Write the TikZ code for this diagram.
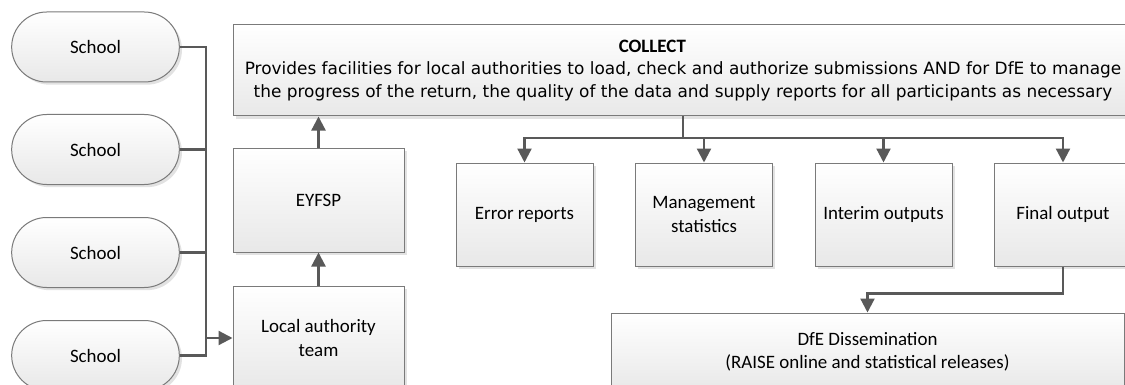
\documentclass[tikz,border=0pt]{standalone}
\usepackage{fontspec}
\setmainfont{Carlito}
\newfontfamily\descfont{DejaVu Sans}
\newcommand{\descsize}{\descfont\fontsize{12.7}{17.2}\selectfont}
\usepackage{tikz}
\usetikzlibrary{arrows.meta,shadows,shapes.misc}

\definecolor{linegray}{HTML}{595959}
\definecolor{framegray}{HTML}{7A7A7A}

\tikzset{
    shade box/.style={draw=framegray, line width=0.75pt, top color=white, bottom color=black!9,
        align=center, inner sep=2pt, font=\fontsize{14.2}{17.3}\selectfont,
        drop shadow={shadow xshift=2pt, shadow yshift=-2pt, fill=black!14, opacity=0.8}},
    school/.style={shade box, rounded rectangle, minimum width=129.75pt, minimum height=52.5pt},
    stage/.style={shade box, rectangle, minimum width=128.25pt, minimum height=78pt},
    result/.style={shade box, rectangle, minimum width=102.75pt, minimum height=77.25pt},
    conn/.style={draw=linegray, line width=1.7pt},
    flow/.style={conn, -{Triangle[length=10.5pt,width=10.5pt]}}
}

\begin{document}
\begin{tikzpicture}[x=0.75pt,y=-0.75pt]

     \useasboundingbox (0,0) rectangle (1125,385);

     \node (s1) at (95.5,47) [school] {School};
     \node (s2) at (95.5,149.5) [school] {School};
     \node (s3) at (95.5,252.5) [school] {School};
     \node (s4) at (95.5,355.5) [school] {School};

     \node (collect) at (683,70.5) [shade box, rectangle, minimum width=675pt, minimum height=68.25pt]
        {\textbf{COLLECT}\rule{46pt}{0pt}\\[-1pt]
         \descsize Provides facilities for local authorities to load, check and authorize submissions AND for DfE to manage\\
         \descsize the progress of the return, the quality of the data and supply reports for all participants as necessary};

     \node (eyfsp) at (318.5,200) [stage] {EYFSP};
     \node (la) at (318.5,338) [stage] {Local authority\\team};

     \node (err) at (524.5,214.5) [result] {Error reports};
     \node (mgmt) at (704,214.5) [result] {Management\\statistics};
     \node (interim) at (883.5,214.5) [result] {Interim outputs};
     \node (final) at (1063,214.5) [result] {Final output};

     \node (dfe) at (867.5,352) [shade box, rectangle, minimum width=384.75pt, minimum height=58.5pt]
        {DfE Dissemination\\(RAISE online and statistical releases)};

     \coordinate (jn) at (206,338);
     \draw [conn] (s1.east) -| (jn);
     \draw [conn] (s2.east) -| (jn);
     \draw [conn] (s3.east) -| (jn);
     \draw [conn] (s4.east) -| (jn);
     \draw [flow] (jn) -- (la.west);

     \draw [flow] (la.north) -- (eyfsp.south);
     \draw [flow] (eyfsp.north) -- (eyfsp.north |- collect.south);

     \coordinate (split) at (683,138);
     \draw [conn] (collect.south -| split) -- (split);
     \draw [flow] (split) -| (err.north);
     \draw [flow] (split) -| (mgmt.north);
     \draw [flow] (split) -| (interim.north);
     \draw [flow] (split) -| (final.north);

     \draw [flow] (final.south) -- ++(0,27) -| (dfe.north);

\end{tikzpicture}
\end{document}
